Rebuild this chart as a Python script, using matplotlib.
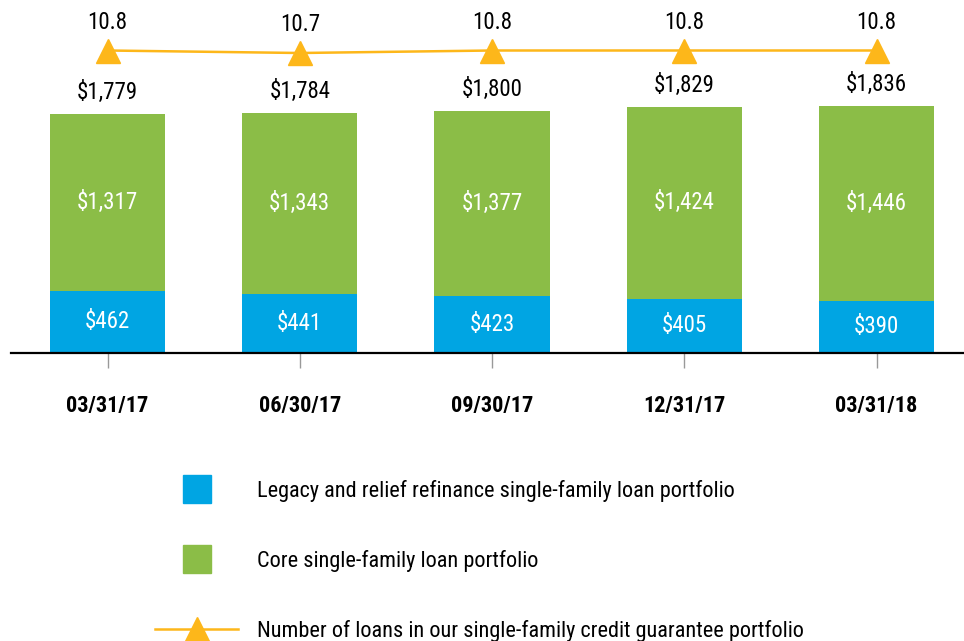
import numpy as np
import matplotlib
matplotlib.use('Agg')
import matplotlib.pyplot as plt
from matplotlib import font_manager
from matplotlib.lines import Line2D

# Data (billions of dollars / millions of loans)
dates = ['03/31/17', '06/30/17', '09/30/17', '12/31/17', '03/31/18']
legacy = [462, 441, 423, 405, 390]
core = [1317, 1343, 1377, 1424, 1446]
totals = [1779, 1784, 1800, 1829, 1836]
loan_count = [10.8, 10.7, 10.8, 10.8, 10.8]

# Condensed font if we have one
installed = {f.name for f in font_manager.fontManager.ttflist}
for fam in ['Roboto Condensed', 'Archivo Narrow', 'PT Sans Narrow']:
    if fam in installed:
        plt.rcParams['font.family'] = [fam, 'DejaVu Sans']
        break
else:
    plt.rcParams['font.family'] = ['DejaVu Sans']
    plt.rcParams['font.stretch'] = 'condensed'

blue = '#00A5E3'
green = '#8BBD47'
orange = '#FDB71A'

fig = plt.figure(figsize=(9.64, 6.41), dpi=100)
ax = fig.add_axes([11 / 964, 288 / 641, 953 / 964, 353 / 641])

x = np.arange(len(dates))
ax.bar(x, legacy, width=0.6, color=blue, zorder=2)
ax.bar(x, core, width=0.6, bottom=legacy, color=green, zorder=2)

for i in range(len(dates)):
    ax.text(x[i], legacy[i] / 2, f'${legacy[i]:,}', ha='center', va='center',
            color='white', fontsize=16.5)
    ax.text(x[i], legacy[i] + core[i] / 2, f'${core[i]:,}', ha='center', va='center',
            color='white', fontsize=16.5)
    ax.annotate(f'${totals[i]:,}', (x[i], totals[i]), xytext=(0, 15.5),
                textcoords='offset points', ha='center', va='center', fontsize=16.5)

ax.set_xlim(-0.502, 4.455)
ax.set_ylim(0, 2626)
ax.set_xticks(x)
ax.set_xticklabels(dates, fontsize=16, fontweight='bold')
ax.tick_params(axis='x', length=10.5, width=1, color='#999999', pad=20)
ax.set_yticks([])
for side in ['top', 'right', 'left']:
    ax.spines[side].set_visible(False)
ax.spines['bottom'].set_linewidth(1.6)
ax.spines['bottom'].set_zorder(3)

# Number of loans on its own scale
ax2 = ax.twinx()
ax2.plot(x, loan_count, color=orange, linewidth=1.8, marker='^', markersize=17,
         zorder=3)
for i in range(len(dates)):
    ax2.annotate(f'{loan_count[i]}', (x[i], loan_count[i]), xytext=(0, 20.5),
                 textcoords='offset points', ha='center', va='center', fontsize=16.5)
ax2.set_ylim(-1.3, 12.82)
ax2.set_yticks([])
for side in ax2.spines:
    ax2.spines[side].set_visible(False)

handles = [
    Line2D([], [], linestyle='none', marker='s', markersize=19.5, color=blue),
    Line2D([], [], linestyle='none', marker='s', markersize=19.5, color=green),
    Line2D([], [], color=orange, linewidth=1.8, marker='^', markersize=17),
]
labels = ['Legacy and relief refinance single-family loan portfolio',
          'Core single-family loan portfolio',
          'Number of loans in our single-family credit guarantee portfolio']
fig.legend(handles, labels, loc='upper left', bbox_to_anchor=(155 / 964, 1 - 480 / 641),
           frameon=False, fontsize=16, handlelength=3.75, handletextpad=0.85,
           labelspacing=2.15, borderpad=0, borderaxespad=0)

fig.savefig('out.png', dpi=100)
